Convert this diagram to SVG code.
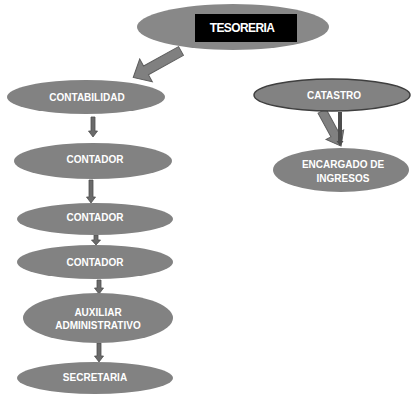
<svg xmlns="http://www.w3.org/2000/svg" width="412" height="394" viewBox="0 0 412 394">
<style>
.node ellipse{fill:#828282;}
.t{font-family:"Liberation Sans",Arial,sans-serif;font-weight:bold;font-size:10px;fill:#ffffff;text-anchor:middle;}
.blk{fill:#808080;stroke:#5e5e5e;stroke-width:1;}
.sm{fill:#6a6a6a;stroke:#4e4e4e;stroke-width:0.8;}
</style>
<rect width="412" height="394" fill="#ffffff"/>
<g id="connectors">
<polygon class="blk" transform="translate(181,51) rotate(151)" points="0,-5 40,-5 40,-13 54.6,0 40,13 40,5 0,5"/>
<polygon class="sm" points="91,117 95,117 95,131 97.5,131 93,137 88.5,131 91,131"/>
<polygon class="sm" points="89,180 93,180 93,197 95.5,197 91,203 86.5,197 89,197"/>
<polygon class="sm" points="94,235 98,235 98,240 100.5,240 96,245 91.5,240 94,240"/>
<polygon class="sm" points="97,280 101,280 101,288 103.5,288 99,294 94.5,288 97,288"/>
<polygon class="sm" points="97,343 101,343 101,356 103.5,356 99,362 94.5,356 97,356"/>
<polygon class="blk" transform="translate(322,111) rotate(61.5)" points="0,-4.5 27,-4.5 27,-10 40,0 27,10 27,4.5 0,4.5"/>
<polygon fill="#4d4d4d" points="338,112 342,112 342,141 343.5,141 340,146 336.5,141 338,141"/>
</g>
<g id="tesoreria" class="node">
<ellipse cx="233" cy="27" rx="96" ry="23" style="fill:#888888"/>
<rect x="195" y="14" width="102" height="28" fill="#000000"/>
<text class="t" x="242" y="32" style="font-size:12px;letter-spacing:-0.6px">TESORERIA</text>
</g>
<g id="contabilidad" class="node">
<ellipse cx="86" cy="97" rx="79" ry="17"/>
<text class="t" x="87" y="101">CONTABILIDAD</text>
</g>
<g id="contador1" class="node">
<ellipse cx="93" cy="161" rx="79" ry="18"/>
<text class="t" x="95" y="163">CONTADOR</text>
</g>
<g id="contador2" class="node">
<ellipse cx="95" cy="219" rx="78" ry="16"/>
<text class="t" x="95" y="221">CONTADOR</text>
</g>
<g id="contador3" class="node">
<ellipse cx="95" cy="262" rx="78" ry="17"/>
<text class="t" x="95" y="266">CONTADOR</text>
</g>
<g id="auxiliar" class="node">
<ellipse cx="98" cy="318" rx="75" ry="25"/>
<text class="t" x="98" y="316">AUXILIAR</text>
<text class="t" x="98" y="329">ADMINISTRATIVO</text>
</g>
<g id="secretaria" class="node">
<ellipse cx="95" cy="378" rx="78" ry="16"/>
<text class="t" x="95" y="381">SECRETARIA</text>
</g>
<g id="catastro" class="node">
<ellipse cx="332" cy="95" rx="78" ry="16" style="stroke:#3f3f3f;stroke-width:1.5"/>
<text class="t" x="334" y="99">CATASTRO</text>
</g>
<g id="encargado" class="node">
<ellipse cx="341" cy="170" rx="68" ry="22"/>
<text class="t" x="343" y="168">ENCARGADO DE</text>
<text class="t" x="343" y="182">INGRESOS</text>
</g>
</svg>
